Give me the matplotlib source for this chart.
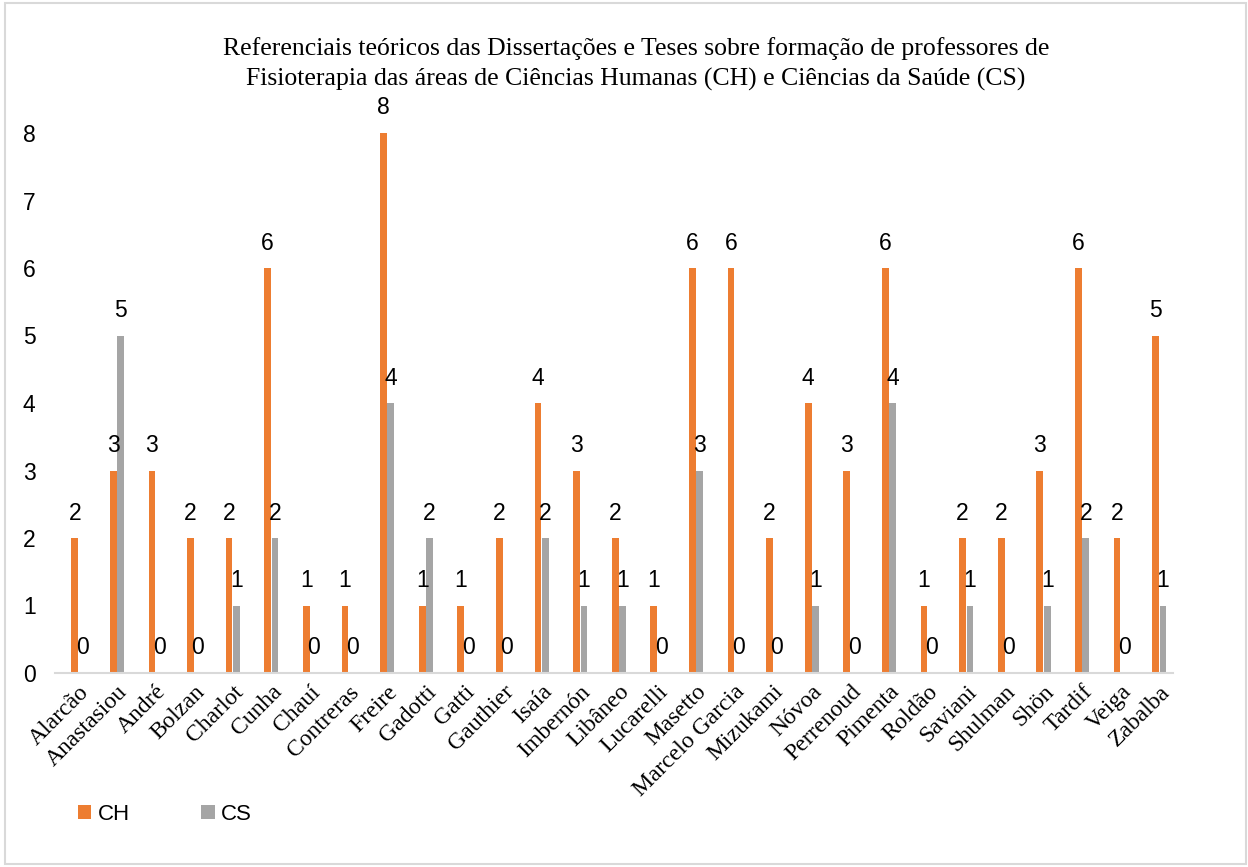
import numpy as np
import matplotlib.pyplot as plt
from matplotlib.patches import Rectangle

autores = ['Alarcão', 'Anastasiou', 'André', 'Bolzan', 'Charlot', 'Cunha', 'Chauí',
           'Contreras', 'Freire', 'Gadotti', 'Gatti', 'Gauthier', 'Isaía', 'Imbernón',
           'Libâneo', 'Lucarelli', 'Masetto', 'Marcelo Garcia', 'Mizukami', 'Nóvoa',
           'Perrenoud', 'Pimenta', 'Roldão', 'Saviani', 'Shulman', 'Shön', 'Tardif',
           'Veiga', 'Zabalba']
ch = [2, 3, 3, 2, 2, 6, 1, 1, 8, 1, 1, 2, 4, 3, 2, 1, 6, 6, 2, 4, 3, 6, 1, 2, 2, 3, 6, 2, 5]
cs = [0, 5, 0, 0, 1, 2, 0, 0, 4, 2, 0, 0, 2, 1, 1, 0, 3, 0, 0, 1, 0, 4, 0, 1, 0, 1, 2, 0, 1]

laranja = '#ED7D31'
cinza = '#A5A5A5'
sans = 'Liberation Sans'
serif = 'Liberation Serif'

fig = plt.figure(figsize=(12.48, 8.67), dpi=100)
ax = fig.add_axes([55 / 1248, 1 - 673 / 867, (1173 - 55) / 1248, (673 - 133) / 867])

x = np.arange(len(autores))
w = 0.175
b1 = ax.bar(x - 0.09, ch, w, color=laranja, label='CH')
b2 = ax.bar(x + 0.1, cs, w, color=cinza, label='CS')

# rótulos de dados acima de cada barra
for barras in (b1, b2):
    for r in barras:
        ax.annotate(str(int(r.get_height())),
                    (r.get_x() + r.get_width() / 2, r.get_height()),
                    xytext=(0, 18), textcoords='offset points',
                    ha='center', va='center', fontsize=16.5, family=sans,
                    annotation_clip=False)

ax.set_xlim(-0.6, 28.36)
ax.set_ylim(0, 8)
ax.set_yticks(range(9))
ax.set_xticks(x)
ax.set_xticklabels(autores, rotation=45, ha='right', rotation_mode='anchor',
                   fontsize=17, family=serif)
for t in ax.get_yticklabels():
    t.set_fontsize(16.5)
    t.set_family(sans)
ax.tick_params(axis='both', length=0)
ax.tick_params(axis='y', pad=14)
ax.tick_params(axis='x', pad=6)

for s in ['top', 'right', 'left']:
    ax.spines[s].set_visible(False)
ax.spines['bottom'].set_color('#d9d9d9')
ax.spines['bottom'].set_linewidth(1.5)

fig.text(636 / 1248, 1 - 64 / 867,
         'Referenciais teóricos das Dissertações e Teses sobre formação de professores de\n'
         'Fisioterapia das áreas de Ciências Humanas (CH) e Ciências da Saúde (CS)',
         ha='center', va='center', fontsize=18.5, family=serif, linespacing=1.4)

fig.legend(handles=[b1, b2], labels=['CH', 'CS'], loc='center left',
           bbox_to_anchor=(58 / 1248, 1 - 814 / 867), ncol=2, frameon=False,
           prop={'family': sans, 'size': 16}, handlelength=0.6, handleheight=0.6,
           handletextpad=0.3, columnspacing=3.2)

fig.patches.append(Rectangle((5 / 1248, 3 / 867), 1241 / 1248, 861 / 867,
                             transform=fig.transFigure, fill=False,
                             edgecolor='#d9d9d9', linewidth=1.5))

fig.savefig('out.png', dpi=100)
